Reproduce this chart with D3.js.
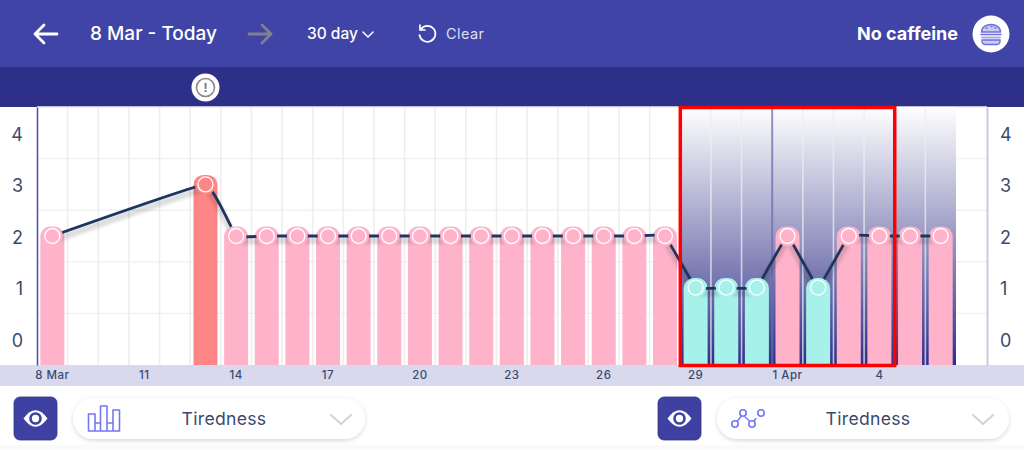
<!DOCTYPE html>
<html>
<head>
<meta charset="utf-8">
<script src="https://cdn.jsdelivr.net/npm/d3@7/dist/d3.min.js"></script>
<style>
  html, body { margin: 0; padding: 0; background: #fff; overflow: hidden; }
  text { font-family: "Inter", "Noto Sans", sans-serif; }
</style>
</head>
<body>
<div id="chart"></div>
<script>
const dayLabels = ["8 Mar", "9", "10", "11", "12", "13", "14", "15", "16", "17", "18", "19", "20", "21", "22",
  "23", "24", "25", "26", "27", "28", "29", "30", "31", "1 Apr", "2", "3", "4", "5", "6"];
const tiredness = [2, null, null, null, null, 3, 2, 2, 2, 2, 2, 2, 2, 2, 2,
  2, 2, 2, 2, 2, 2, 1, 1, 1, 2, 1, 2, 2, 2, 2];
const xTicks = ["8 Mar", "11", "14", "17", "20", "23", "26", "29", "1 Apr", "4"];
const yTicks = [0, 1, 2, 3, 4];
const periodDays = ["29", "30", "31", "1 Apr", "2", "3", "4", "5", "6"];
const selectedDays = ["29", "30", "31", "1 Apr", "2", "3", "4"];

const width = 1024, height = 449;
const plotTop = 107, plotBottom = 365, plotLeft = 37, plotRight = 956, axisRight = 987;
const ink = "#3a4a6e";

const svg = d3.select("#chart").append("svg").attr("width", width).attr("height", height)
  .style("display", "block");
const defs = svg.append("defs");

const x = d3.scaleBand().domain(dayLabels).range([plotLeft, plotRight]).paddingInner(0.216).paddingOuter(0.108);
const y = d3.scaleLinear().domain([-0.5, 4.5]).range([plotBottom, plotTop]);
const step = x.step();
const cx = d => x(d) + x.bandwidth() / 2;
const barColor = d3.scaleOrdinal().domain([1, 2, 3]).range(["#a6f1ea", "#ffb3cb", "#ff8686"]);

const points = dayLabels.map((day, i) => ({ day, value: tiredness[i] })).filter(d => d.value !== null);

// 標題列
svg.append("rect").attr("width", width).attr("height", 67).attr("fill", "#4044a6");
svg.append("rect").attr("y", 67).attr("width", width).attr("height", 40).attr("fill", "#2e2f88");
svg.append("rect").attr("y", 365).attr("width", width).attr("height", 21).attr("fill", "#d9d9ed");
svg.append("rect").attr("y", 445).attr("width", width).attr("height", 4).attr("fill", "#fafafa");

// 水平格線(在漸層之下)
svg.append("g").selectAll("line")
  .data(yTicks)
  .join("line")
  .attr("x1", plotLeft)
  .attr("x2", axisRight)
  .attr("y1", d => y(d + 0.5))
  .attr("y2", d => y(d + 0.5))
  .attr("stroke", "#f1f1f4")
  .attr("stroke-width", 1.4);

// 背景漸層
const grad = defs.append("linearGradient").attr("id", "period").attr("x1", 0).attr("x2", 0).attr("y1", 0).attr("y2", 1);
grad.append("stop").attr("offset", 0).attr("stop-color", "#ffffff");
grad.append("stop").attr("offset", 0.55).attr("stop-color", "#8f8fbe");
grad.append("stop").attr("offset", 1).attr("stop-color", "#2f2f8c");

svg.append("rect")
  .attr("x", x(periodDays[0]) - (step - x.bandwidth()) / 2)
  .attr("y", plotTop)
  .attr("width", step * periodDays.length)
  .attr("height", plotBottom - plotTop)
  .attr("fill", "url(#period)");

// 垂直格線
svg.append("g").selectAll("line")
  .data(d3.range(1, 30))
  .join("line")
  .attr("x1", d => plotLeft + d * step)
  .attr("x2", d => plotLeft + d * step)
  .attr("y1", plotTop)
  .attr("y2", plotBottom)
  .attr("stroke", d => dayLabels[d] === "1 Apr" ? "#6c6cae" : "#eeeef1")
  .attr("stroke-opacity", d => d >= 21 ? 0.75 : 1)
  .attr("stroke-width", d => dayLabels[d] === "1 Apr" ? 2 : 1.6);

// 長條
const barHead = 9.5;
svg.append("g").selectAll("path")
  .data(points)
  .join("path")
  .attr("fill", d => barColor(d.value))
  .attr("d", d => {
    const x0 = x(d.day), x1 = x0 + x.bandwidth(), top = y(d.value) - barHead, r = 10;
    const p = d3.path();
    p.moveTo(x0, plotBottom);
    p.lineTo(x0, top + r);
    p.arcTo(x0, top, x0 + r, top, r);
    p.lineTo(x1 - r, top);
    p.arcTo(x1, top, x1, top + r, r);
    p.lineTo(x1, plotBottom);
    p.closePath();
    return p.toString();
  });

// 折線(圓點周圍留空)
const mask = defs.append("mask").attr("id", "dotGap").attr("maskUnits", "userSpaceOnUse")
  .attr("x", 0).attr("y", 0).attr("width", width).attr("height", height);
mask.append("rect").attr("width", width).attr("height", height).attr("fill", "#fff");
mask.selectAll("circle")
  .data(points)
  .join("circle")
  .attr("cx", d => cx(d.day))
  .attr("cy", d => y(d.value))
  .attr("r", 10.5)
  .attr("fill", "#000");

defs.append("filter").attr("id", "soft").attr("x", "-5%").attr("y", "-20%").attr("width", "110%").attr("height", "140%")
  .append("feGaussianBlur").attr("stdDeviation", 1.5);

const line = d3.line().x(d => cx(d.day)).y(d => y(d.value)).curve(d3.curveCardinal.tension(0.78));

svg.append("g").attr("mask", "url(#dotGap)")
  .append("path")
  .attr("d", line(points))
  .attr("transform", "translate(0,4.5)")
  .attr("fill", "none")
  .attr("stroke", "#000")
  .attr("stroke-opacity", 0.13)
  .attr("stroke-width", 7)
  .attr("filter", "url(#soft)");

svg.append("g").attr("mask", "url(#dotGap)")
  .append("path")
  .attr("d", line(points))
  .attr("fill", "none")
  .attr("stroke", "#1e3560")
  .attr("stroke-width", 2.8);

svg.append("g").selectAll("circle")
  .data(points)
  .join("circle")
  .attr("cx", d => cx(d.day))
  .attr("cy", d => y(d.value))
  .attr("r", 7.5)
  .attr("fill", d => barColor(d.value))
  .attr("stroke", "#fff")
  .attr("stroke-width", 1.3);

// 座標軸
const axisLeft = svg.append("g").attr("transform", `translate(${plotLeft},0)`)
  .call(d3.axisLeft(y).tickValues(yTicks).tickFormat(d3.format("d")).tickSize(0).tickPadding(14));
const axisR = svg.append("g").attr("transform", `translate(${axisRight},0)`)
  .call(d3.axisRight(y).tickValues(yTicks).tickFormat(d3.format("d")).tickSize(0).tickPadding(13));
axisLeft.select(".domain").attr("stroke", "#4a4ca8").attr("stroke-width", 1.5);
axisR.select(".domain").attr("stroke", "#c9c9e2").attr("stroke-width", 2);
svg.selectAll("g.tick text").attr("font-size", 18).attr("fill", ink).attr("dy", "0.4em").style("font-family", "Inter");

const axisBottom = svg.append("g").attr("transform", `translate(0,${plotBottom})`)
  .call(d3.axisBottom(x).tickValues(xTicks).tickSize(0).tickPadding(6));
axisBottom.select(".domain").remove();
axisBottom.selectAll("text").attr("font-size", 11.5).attr("font-weight", 500).attr("fill", ink)
  .attr("letter-spacing", 0.5).style("font-family", "Inter");

// 選取框
svg.append("rect")
  .attr("x", plotLeft + 21 * step)
  .attr("y", plotTop + 0.5)
  .attr("width", step * selectedDays.length)
  .attr("height", plotBottom - plotTop)
  .attr("fill", "none")
  .attr("stroke", "#ff0000")
  .attr("stroke-width", 3.5);

// 標題文字
const headerLabel = (txt, tx, size, weight, color) => svg.append("text")
  .attr("x", tx).attr("y", 33.5).attr("dy", "0.36em")
  .attr("font-size", size).attr("font-weight", weight).attr("fill", color).text(txt);

headerLabel("8 Mar - Today", 90, 19, 500, "#ffffff");
headerLabel("30 day", 307, 15.5, 500, "#ffffff");
headerLabel("Clear", 446, 14.5, 400, "#dfdff2").attr("letter-spacing", 0.4);
headerLabel("No caffeine", 857, 18, 700, "#ffffff");

const strokeIcon = (d, color, w) => svg.append("path").attr("d", d).attr("fill", "none")
  .attr("stroke", color).attr("stroke-width", w).attr("stroke-linecap", "round").attr("stroke-linejoin", "round");

strokeIcon("M35 34H57M44 25L35 34L44 43", "#ffffff", 2.8);
strokeIcon("M249 34H271M262 25L271 34L262 43", "#80808f", 2.8);
strokeIcon("M363 32L368 37L373 32", "#ffffff", 1.5);
strokeIcon("M421 29A8 8 0 1 1 419.5 35M420 25V30H425", "#ffffff", 1.7);

// 右上角圖示
svg.append("circle").attr("cx", 991).attr("cy", 34).attr("r", 18.5).attr("fill", "#fff");
const burger = "#6d6fd8";
svg.append("path").attr("d", "M981.5 32C981.5 22 1000.5 22 1000.5 32Z").attr("fill", "#c9caf3").attr("stroke", burger).attr("stroke-width", 1.3);
strokeIcon("M986 28H987M991 26.5H992M995 28H996", burger, 1.3);
strokeIcon("M981 34.5H1001", burger, 1.6);
strokeIcon("M982 37.5H1000", "#a9aaec", 2);
svg.append("path").attr("d", "M982 40H1000V41.5C1000 43.5 998 44.5 996 44.5H986C984 44.5 982 43.5 982 41.5Z")
  .attr("fill", "#c9caf3").attr("stroke", burger).attr("stroke-width", 1.3);

// 事件標記
svg.append("circle").attr("cx", cx("13")).attr("cy", 87.5).attr("r", 14).attr("fill", "#fff");
svg.append("circle").attr("cx", cx("13")).attr("cy", 87.5).attr("r", 9).attr("fill", "none")
  .attr("stroke", "#8a8a92").attr("stroke-width", 1.6);
svg.append("text").attr("x", cx("13")).attr("y", 88).attr("dy", "0.36em")
  .attr("text-anchor", "middle").attr("font-size", 12).attr("font-weight", 700).attr("fill", "#77777f").text("!");

// 下方控制列
defs.append("filter").attr("id", "pillShadow").attr("x", "-5%").attr("y", "-20%").attr("width", "110%").attr("height", "150%")
  .append("feDropShadow").attr("dx", 0).attr("dy", 1.5).attr("stdDeviation", 2).attr("flood-color", "#000").attr("flood-opacity", 0.16);

const controls = [{ eye: 14, pill: 73, text: 224, chevron: 341 }, { eye: 658, pill: 717, text: 868, chevron: 983 }];
controls.forEach(c => {
  svg.append("rect").attr("x", c.eye).attr("y", 397).attr("width", 43).attr("height", 43).attr("rx", 6)
    .attr("fill", "#3e40a2").attr("stroke", "#34367f").attr("stroke-width", 0.8);
  svg.append("path")
    .attr("d", `M${c.eye + 9.5} 418.5Q${c.eye + 21.5} 402 ${c.eye + 33.5} 418.5Q${c.eye + 21.5} 435 ${c.eye + 9.5} 418.5Z`)
    .attr("fill", "#fff");
  svg.append("circle").attr("cx", c.eye + 21.5).attr("cy", 418.5).attr("r", 5).attr("fill", "none")
    .attr("stroke", "#3e40a2").attr("stroke-width", 2.6);
  svg.append("rect").attr("x", c.pill).attr("y", 398).attr("width", 292).attr("height", 41).attr("rx", 20.5)
    .attr("fill", "#fff").attr("filter", "url(#pillShadow)");
  svg.append("text").attr("x", c.text).attr("y", 419).attr("dy", "0.36em").attr("text-anchor", "middle")
    .attr("font-size", 17.6).attr("fill", ink).attr("letter-spacing", 0.3).text("Tiredness");
  strokeIcon(`M${c.chevron - 10} 415L${c.chevron} 424L${c.chevron + 10} 415`, "#d4d4d8", 2.2);
});

// 圖例小圖示
const legendBlue = "#7478f0";
strokeIcon("M88.5 431V414H95V431M100.5 431V406H107V431M113 431V410H119.5V431M88.5 431H119.5M95 423H100.5M107 423H113", legendBlue, 1.6);
[[735, 424], [743, 413], [752, 424], [761, 413]].forEach(p => {
  svg.append("circle").attr("cx", p[0]).attr("cy", p[1]).attr("r", 3.2).attr("fill", "none")
    .attr("stroke", legendBlue).attr("stroke-width", 1.6);
});
strokeIcon("M737.5 421L741 416.5M745 417L749 420.5M754 421L756 418.5", legendBlue, 1.4);
</script>
</body>
</html>
